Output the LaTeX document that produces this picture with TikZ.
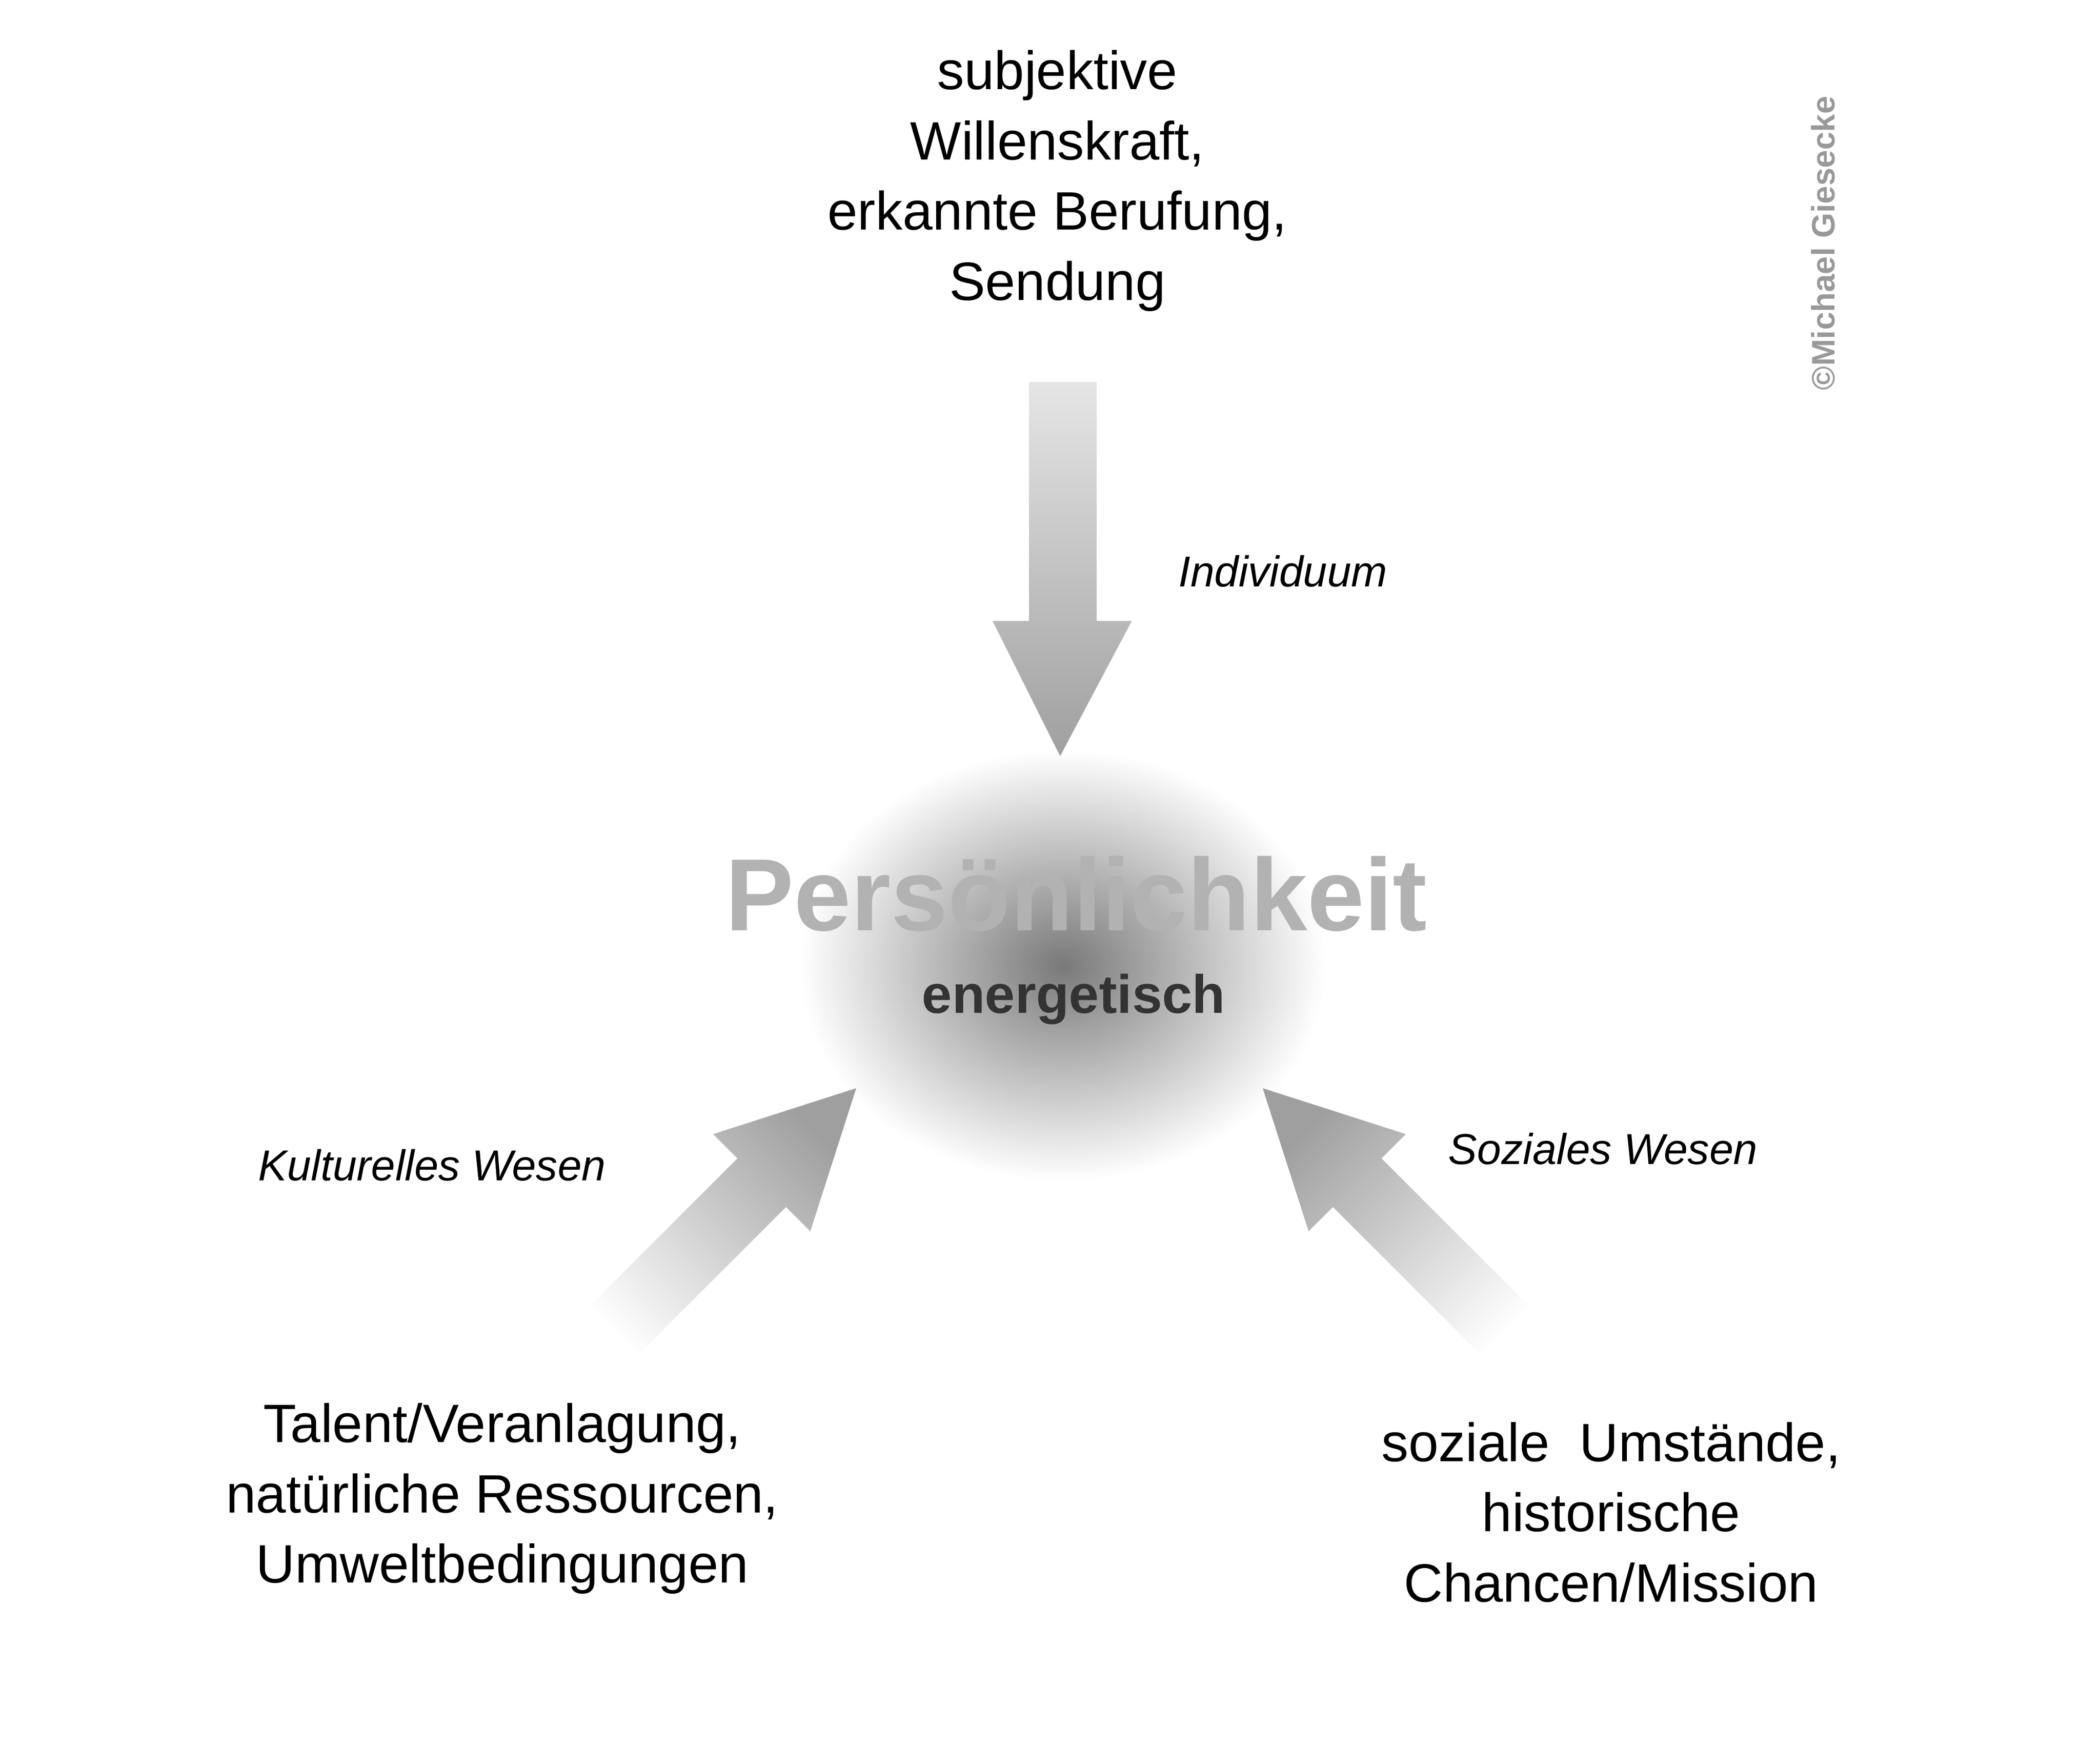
\documentclass[tikz,border=0pt]{standalone}
\usepackage{fontspec}
\setmainfont{Liberation Sans}
\begin{document}
\begin{tikzpicture}[x=0.5pt, y=-0.5pt,
  txt/.style={align=center, font=\fontsize{20}{26}\selectfont},
  lbl/.style={font=\fontsize{16}{20}\selectfont\itshape},
  pfeil/.style={draw=none}]
  \useasboundingbox (0,0) rectangle (1555,1296);

  % Kern
  \shade[inner color=gray!95!black, outer color=white, draw=none]
    (787,715) ellipse [x radius=195, y radius=160];
  \node[text=gray!60, font=\fontsize{38}{44}\selectfont\bfseries] (Pers) at (797,662) {Persönlichkeit};
  \node[text=black!80, font=\fontsize{20}{24}\selectfont\bfseries] (Energ) at (795,740) {energetisch};

  % Pfeile
  \shade[pfeil, top color=gray!20, bottom color=gray!75]
    (762,283) -- (812,283) -- (812,460) -- (838,460) -- (785,560) -- (735,460) -- (762,460) -- cycle;
  \shade[pfeil, top color=gray!75, bottom color=white, shading angle=-45]
    (422,982) -- (458,1018) -- (582,894) -- (600,912) -- (634,806) -- (528,840) -- (546,858) -- cycle;
  \shade[pfeil, top color=gray!75, bottom color=white, shading angle=45]
    (1147,982) -- (1111,1018) -- (987,894) -- (969,912) -- (935,806) -- (1041,840) -- (1023,858) -- cycle;

  % Beschriftungen
  \node[txt] (Oben) at (783,134) {subjektive\\Willenskraft,\\erkannte Berufung,\\Sendung};
  \node[txt] (Links) at (372,1110) {Talent/Veranlagung,\\natürliche Ressourcen,\\Umweltbedingungen};
  \node[txt] (Rechts) at (1193,1120) {soziale\ \ Umstände,\\historische\\Chancen/Mission};
  \node[lbl] (Indiv) at (950,423) {Individuum};
  \node[lbl] (Kultur) at (320,863) {Kulturelles Wesen};
  \node[lbl] (Sozial) at (1187,851) {Soziales Wesen};
  \node[rotate=90, text=gray!80, font=\fontsize{12}{14}\selectfont\bfseries] (Copy) at (1350,180) {©Michael Giesecke};
\end{tikzpicture}
\end{document}
